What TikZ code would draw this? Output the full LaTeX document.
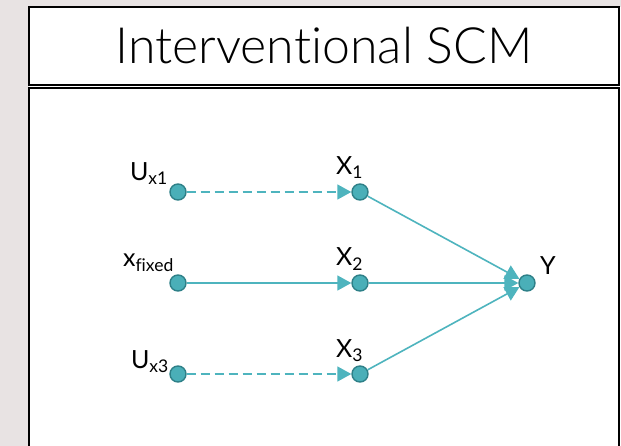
\documentclass[tikz,border=0pt]{standalone}
\usepackage{fontspec}
\setmainfont{Lato}[Ligatures=NoCommon]
\newfontfamily\titlefont{Lato Light}[Ligatures=NoCommon]
\usetikzlibrary{positioning,arrows.meta,calc}

\definecolor{pagegray}{RGB}{232,227,227}
\definecolor{nodefill}{RGB}{74,175,184}
\definecolor{nodeedge}{RGB}{46,128,136}
\definecolor{edgeline}{RGB}{78,180,190}

\begin{document}
\begin{tikzpicture}[
    x=1pt, y=-1pt,
    frame/.style = {draw=black, line width=2pt},
    titlebox/.style = {
        rectangle,
        frame,
        fill=white,
        minimum width=590pt,
        minimum height=78pt,
        font=\titlefont\fontsize{50}{53}\selectfont
    },
    var/.style = {
        circle,
        draw=nodeedge,
        fill=nodefill,
        line width=1.4pt,
        minimum size=16pt,
        inner sep=0pt
    },
    lbl/.style = {font=\fontsize{25}{28}\selectfont, inner sep=0pt},
    edge/.style = {draw=edgeline, line width=1.6pt, -{Triangle[length=14pt,width=15pt]}},
    dashedge/.style = {edge, dash pattern=on 9pt off 5pt}
]

% page and frames
\useasboundingbox (0,0) rectangle (621,446);
\fill[pagegray] (0,0) rectangle (621,446);
\fill[white] (29,7) rectangle (621,446);
\node[titlebox] (title) at (324,46) {Interventional SCM};
\draw[frame] (29,452) -- (29,88) -- (619,88) -- (619,452);

% grid of variables
\def\colU{178}
\def\colX{360}
\def\colY{527}
\def\rowA{192}
\def\rowB{283}
\def\rowC{374}

% exogenous / fixed inputs
\node[var] (ux1) at (\colU,\rowA) {};
\node[var] (xfix) at (\colU,\rowB) {};
\node[var] (ux3) at (\colU,\rowC) {};

% causes and outcome
\node[var] (x1) at (\colX,\rowA) {};
\node[var] (x2) at (\colX,\rowB) {};
\node[var] (x3) at (\colX,\rowC) {};
\node[var] (y) at (\colY,\rowB) {};

% labels, set on their baselines
\node[lbl, anchor=base east] (ux1lbl) at ($(ux1)+(-10,-11)$) {U\textsubscript{x1}};
\node[lbl, anchor=base east] (xfixlbl) at ($(xfix)+(-4,-16)$) {x\textsubscript{fixed}};
\node[lbl, anchor=base east] (ux3lbl) at ($(ux3)+(-9,-6)$) {U\textsubscript{x3}};
\node[lbl, anchor=base west] (x1lbl) at ($(x1)+(-24,-17)$) {X\textsubscript{1}};
\node[lbl, anchor=base west] (x2lbl) at ($(x2)+(-24,-17)$) {X\textsubscript{2}};
\node[lbl, anchor=base west] (x3lbl) at ($(x3)+(-24,-17)$) {X\textsubscript{3}};
\node[lbl, anchor=base west] (ylbl) at ($(y)+(13,-8)$) {Y};

% edges
\draw[dashedge] (ux1) -- (x1);
\draw[edge] (xfix) -- (x2);
\draw[dashedge] (ux3) -- (x3);
\draw[edge] (x1) -- (y);
\draw[edge] (x2) -- (y);
\draw[edge] (x3) -- (y);

\end{tikzpicture}
\end{document}
